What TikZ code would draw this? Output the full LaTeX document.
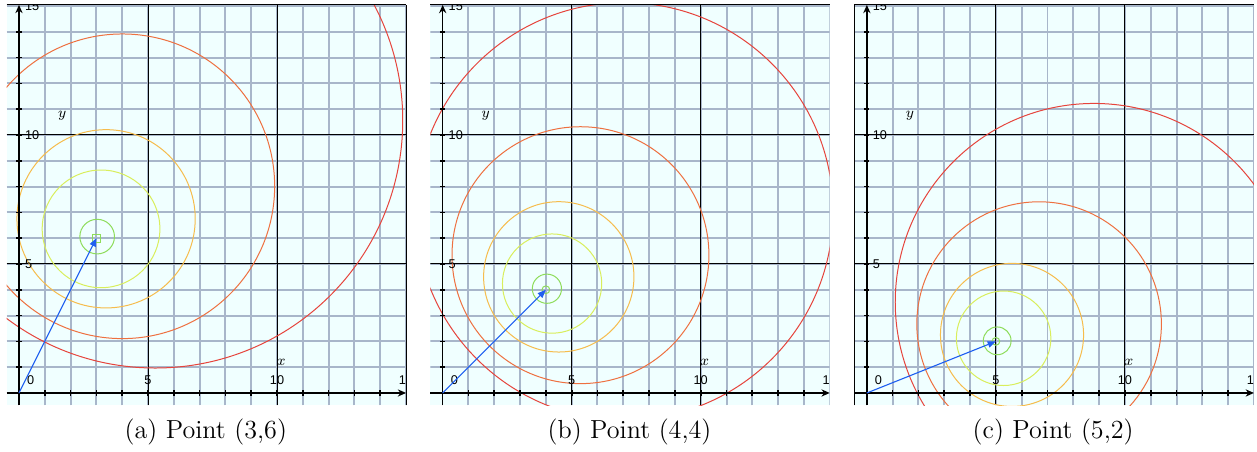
\documentclass[tikz,border=0pt]{standalone}
\usepackage{fontspec}
\newfontfamily\ticksf{Liberation Sans}
\usepackage{tikz}
\usetikzlibrary{arrows.meta}
\definecolor{gridbg}{HTML}{F0FFFF}
\definecolor{gridln}{HTML}{A8B6CA}
\definecolor{lvA}{HTML}{8EDC5A}
\definecolor{lvB}{HTML}{D9EE5C}
\definecolor{lvC}{HTML}{F6BC4C}
\definecolor{lvD}{HTML}{EE7040}
\definecolor{lvE}{HTML}{E6443C}
\definecolor{vecblue}{HTML}{1F5FF0}
% common grid, axes and tick labels; #1 = contour circles (clipped)
\newcommand{\gridpanel}[1]{%
  \fill[gridbg] (-0.48,-0.48) rectangle (15,15.04);
  \begin{scope}
    \clip (-0.48,-0.48) rectangle (15,15.04);
    \foreach \k in {1,...,15} {
      \draw[gridline] (\k,-0.48) -- (\k,15.04);
      \draw[gridline] (-0.48,\k) -- (15,\k);
    }
    \foreach \k in {5,10} {
      \draw[majorline] (\k,-0.48) -- (\k,15.04);
      \draw[majorline] (-0.48,\k) -- (15,\k);
    }
    #1
    \node[ticklab] (x0) at (0.45,0.5) {0};
    \foreach \k in {5,10,15} {
      \node[ticklab] (x\k) at (\k,0.5) {\k};
      \node[ticklab, anchor=west] (y\k) at (0.22,\k) {\k};
    }
  \end{scope}
  \foreach \k in {1,...,14} {
    \draw[tickmark] (\k,-0.1) -- (\k,0.1);
    \draw[tickmark] (-0.1,\k) -- (0.1,\k);
  }
  \draw[axisline] (-0.48,0) -- (15,0);
  \draw[axisline] (0,-0.48) -- (0,15.04);
  \draw[majorline] (-0.48,15.04) -- (15,15.04);
  \node[axlab] (ylab) at (1.67,10.74) {$y$};
  \node[axlab] (xlab) at (10.16,1.17) {$x$};
}

\begin{document}
\begin{tikzpicture}[x=0.5cm, y=0.5cm,
  gridline/.style={gridln, line width=1.1pt},
  majorline/.style={black, line width=0.55pt},
  tickmark/.style={black, line width=0.9pt},
  axisline/.style={black, line width=0.9pt, -{Stealth[length=1.6mm,width=1.4mm]}},
  ticklab/.style={font=\ticksf\fontsize{7}{8}\selectfont, inner sep=0pt},
  axlab/.style={font=\fontsize{8}{9}\selectfont, inner sep=0pt},
  level/.style={line width=0.55pt},
  marksq/.style={draw=lvA, line width=0.55pt, rectangle, minimum size=0.15cm, inner sep=0pt},
  markcirc/.style={draw=lvA, line width=0.55pt, circle, minimum size=0.15cm, inner sep=0pt},
  vec/.style={vecblue, line width=0.6pt, -{Triangle[length=1.6mm,width=1.25mm]}},
  caption/.style={font=\fontsize{14.4}{17}\selectfont, anchor=base}]

\useasboundingbox (-0.736,-2.287) rectangle (47.98,15.23);

%---------------- panel (a): point (3,6) -----------------
\begin{scope}
  \pgfmathsetmacro{\px}{3}
  \pgfmathsetmacro{\py}{6}
  \pgfmathsetmacro{\plen}{veclen(\px,\py)}
  \gridpanel{
    \foreach \s/\r/\c in {1.01/0.1/lvA, 1.06/0.34/lvB, 1.125/0.515/lvC, 1.335/0.88/lvD, 1.76/1.43/lvE}
      \draw[level, \c] ({\s*\px},{\s*\py}) circle[radius={\r*\plen}];
  }
  \draw[majorline] (15,-0.48) -- (15,15.04);
  \coordinate (O) at (0,0);
  \coordinate (P) at (\px,\py);
  \node[marksq] (Pmark) at (P) {};
  \draw[vec] (O) -- (P);
  \node[caption] (capa) at (7.24,-1.78) {(a) Point (3,6)};
\end{scope}

%---------------- panel (b): point (4,4) -----------------
\begin{scope}[shift={(16.42,0)}]
  \pgfmathsetmacro{\px}{4}
  \pgfmathsetmacro{\py}{4}
  \pgfmathsetmacro{\plen}{veclen(\px,\py)}
  \gridpanel{
    \foreach \s/\r/\c in {1.01/0.1/lvA, 1.06/0.34/lvB, 1.125/0.515/lvC, 1.335/0.88/lvD, 1.76/1.43/lvE}
      \draw[level, \c] ({\s*\px},{\s*\py}) circle[radius={\r*\plen}];
  }
  \coordinate (O) at (0,0);
  \coordinate (P) at (\px,\py);
  \node[markcirc] (Pmark) at (P) {};
  \draw[vec] (O) -- (P);
  \node[caption] (capb) at (7.24,-1.78) {(b) Point (4,4)};
\end{scope}

%---------------- panel (c): point (5,2) -----------------
\begin{scope}[shift={(32.86,0)}]
  \pgfmathsetmacro{\px}{5}
  \pgfmathsetmacro{\py}{2}
  \pgfmathsetmacro{\plen}{veclen(\px,\py)}
  \gridpanel{
    \foreach \s/\r/\c in {1.01/0.1/lvA, 1.06/0.34/lvB, 1.125/0.515/lvC, 1.335/0.88/lvD, 1.76/1.43/lvE}
      \draw[level, \c] ({\s*\px},{\s*\py}) circle[radius={\r*\plen}];
  }
  \draw[majorline] (-0.48,-0.48) -- (-0.48,15.04);
  \coordinate (O) at (0,0);
  \coordinate (P) at (\px,\py);
  \node[markcirc] (Pmark) at (P) {};
  \draw[vec] (O) -- (P);
  \node[caption] (capc) at (7.22,-1.78) {(c) Point (5,2)};
\end{scope}

\end{tikzpicture}
\end{document}
